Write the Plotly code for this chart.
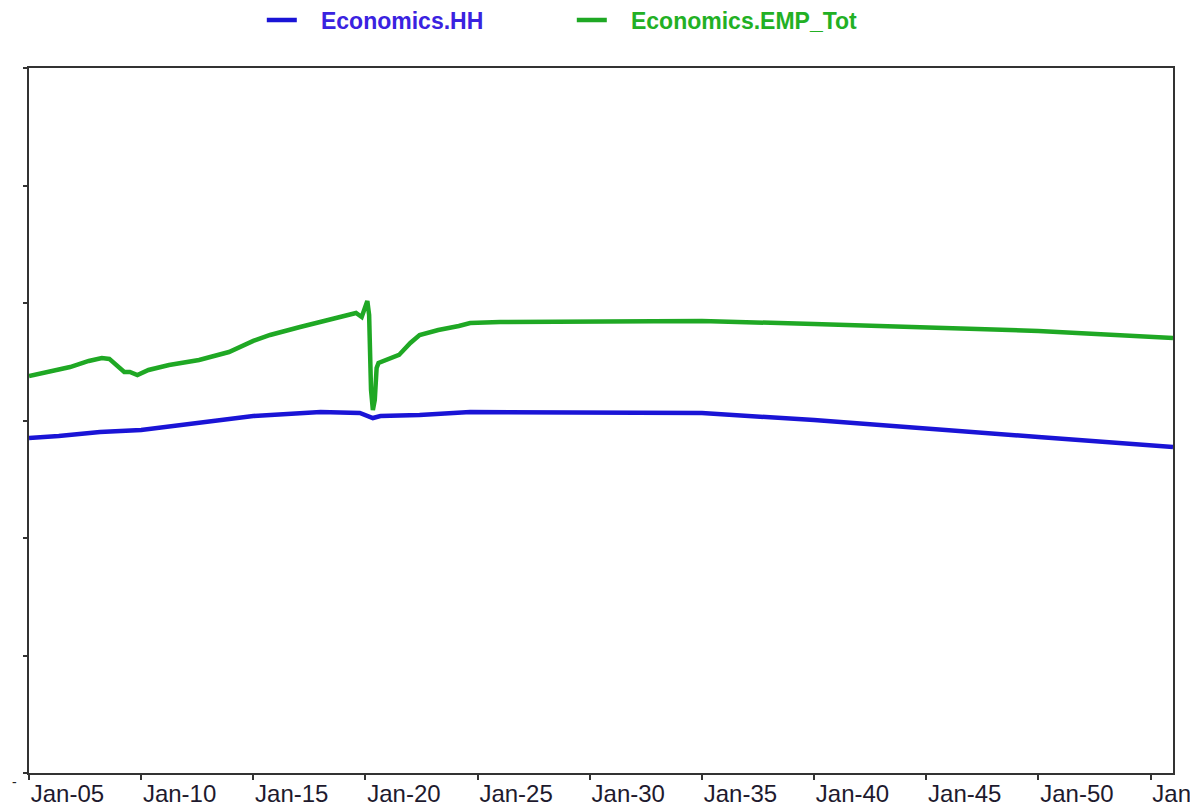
import plotly.graph_objects as go

# ---- data ----
hh_dates = ["2005-01-01", "2006-05-01", "2008-03-01", "2010-01-01", "2015-01-01",
            "2018-01-01", "2019-10-01", "2020-05-01", "2020-09-01", "2022-06-01",
            "2024-09-01", "2026-01-01", "2030-06-01", "2035-01-01", "2040-01-01",
            "2045-01-01", "2050-01-01", "2056-01-01"]
hh_values = [285.1, 286.8, 290.2, 291.9, 303.8,
             307.2, 306.4, 302.1, 303.8, 304.7,
             307.2, 307.2, 306.4, 306.4, 300.4,
             293.6, 286.0, 277.5]

emp_dates = ["2005-01-01", "2005-12-01", "2006-11-01", "2007-09-01", "2008-04-01",
             "2008-08-01", "2008-12-01", "2009-04-01", "2009-07-01", "2009-11-01",
             "2010-05-01", "2011-04-01", "2012-08-01", "2013-12-01", "2015-01-01",
             "2015-10-01", "2017-02-01", "2018-06-01", "2019-04-01", "2019-08-01",
             "2019-11-01", "2020-01-01", "2020-02-01", "2020-03-01", "2020-04-01",
             "2020-05-01", "2020-06-01", "2020-07-01", "2020-08-01", "2021-07-01",
             "2022-01-01", "2022-06-01", "2023-04-01", "2024-03-01", "2024-09-01",
             "2026-01-01", "2030-06-01", "2035-01-01", "2040-01-01", "2045-01-01",
             "2050-01-01", "2056-01-01"]
emp_values = [337.9, 341.3, 345.5, 350.7, 353.2,
              352.4, 347.2, 341.3, 341.3, 338.7,
              343.0, 347.2, 351.5, 358.3, 367.7,
              372.8, 379.6, 385.5, 389.8, 391.5,
              388.1, 398.3, 401.7, 389.8, 326.0,
              308.9, 317.5, 344.7, 349.0, 355.8,
              366.0, 372.8, 377.0, 380.4, 383.0,
              383.8, 384.7, 384.7, 382.1, 379.6,
              376.2, 370.2]

series_names = ["Economics.HH", "Economics.EMP_Tot"]
series_colors = ["#1a14d6", "#1fa824"]
text_colors = ["#3a22e0", "#22b024"]

x_range = ["2005-01-01", "2056-01-01"]
y_range = [0, 600]

fig = go.Figure()
for name, dates, vals, col, tcol in [
    (series_names[0], hh_dates, hh_values, series_colors[0], text_colors[0]),
    (series_names[1], emp_dates, emp_values, series_colors[1], text_colors[1]),
]:
    fig.add_trace(go.Scatter(
        x=dates, y=vals, mode="lines",
        name=f"<span style='color:{tcol}'>&nbsp;&nbsp;&nbsp;{name}</span>",
        line=dict(color=col, width=4.5),
    ))

# page body has an 8px default margin, so the figure is sized to fit the window
fig.update_layout(
    width=1190, height=799,
    margin=dict(l=21, r=25, t=60, b=34, autoexpand=False),
    paper_bgcolor="white", plot_bgcolor="white",
    font=dict(family="Liberation Sans, Arial, sans-serif", color="#222"),
    legend=dict(
        orientation="h", x=0.2035, xanchor="left", y=1.068, yanchor="middle",
        font=dict(family="Liberation Sans, Arial, sans-serif", size=23, weight="bold"),
        entrywidth=265, entrywidthmode="pixels",
        bgcolor="rgba(0,0,0,0)",
    ),
    showlegend=True,
)

fig.update_xaxes(
    type="date", range=x_range,
    tick0="2005-01-01", dtick="M60", tickformat="%b-%y",
    ticks="outside", ticklen=5, tickcolor="#333", tickwidth=1.5,
    ticklabelposition="outside right", ticklabeloverflow="allow",
    ticklabelstandoff=-2,
    tickfont=dict(size=24, color="#1e1a2e"),
    showline=True, linecolor="#333", linewidth=2, mirror=True,
    showgrid=False, zeroline=False,
)
fig.update_yaxes(
    range=y_range, dtick=100,
    ticks="outside", ticklen=4, tickcolor="#333", tickwidth=1.5,
    showticklabels=False,
    showline=True, linecolor="#333", linewidth=2, mirror=True,
    showgrid=False, zeroline=False,
)

fig.add_annotation(
    text="-", xref="paper", yref="paper", x=-0.0127, y=-0.0128,
    xanchor="center", yanchor="middle",
    showarrow=False, font=dict(size=14, color="#222"),
)

fig.write_html("out.html")
